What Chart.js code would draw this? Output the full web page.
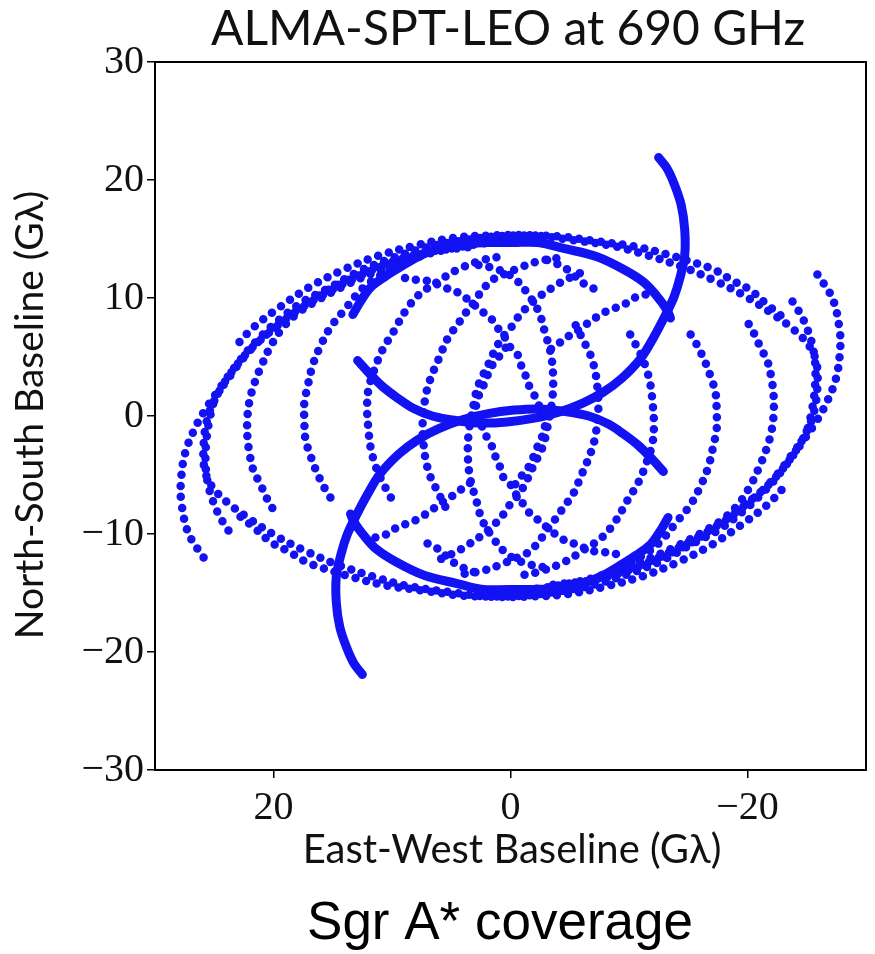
<!DOCTYPE html>
<html>
<head>
<meta charset="utf-8">
<script src="https://cdn.jsdelivr.net/npm/chart.js@4.4.1/dist/chart.umd.min.js"></script>
<style>
  html, body { margin: 0; padding: 0; background: #fff; }
  canvas { display: block; }
</style>
</head>
<body>
<canvas id="uv" width="875" height="954"></canvas>
<script>
// axis ticks
const xTickValues = [20, 0, -20];
const yTickValues = [30, 20, 10, 0, -10, -20, -30];

// ground / slow tracks (dotted); conjugates (-u,-v) are added below
const l1U = [25.9, 27.2, 27.8, 27.8, 27.5, 26.8, 25.9, 24.5, 23.0, 21.5, 19.6, 17.5, 15.4, 12.9, 10.2, 7.4, 4.5, 1.5, -1.4, -4.4, -7.3, -10.3, -13.2, -15.8, -17.2, -18.7, -20.2, -21.7, -23.1];
const l1V = [-12.0, -9.9, -7.1, -5.4, -3.3, -1.4, 0.3, 2.4, 4.5, 6.3, 8.1, 9.7, 10.8, 12.2, 13.3, 14.2, 14.8, 15.2, 15.3, 15.2, 14.8, 14.4, 13.7, 12.9, 12.4, 11.5, 10.7, 9.4, 8.3];

const l2U = [3.6, 7.0, 9.9, 12.9, 15.4, 17.9, 20.1, 22.0, 23.7, 24.9, 25.6, 25.9, 25.8, 25.1, 23.8, 22.2, 19.9, 17.4, 14.6, 11.6, 8.7, 5.3, 1.9, -1.4, -4.8, -8.2, -11.1, -14.1, -17.0, -19.5, -21.7, -23.3];
const l2V = [14.3, 13.9, 13.1, 11.8, 10.5, 9.0, 7.3, 5.6, 3.5, 1.5, -0.3, -2.5, -4.6, -6.1, -7.4, -8.6, -10.1, -11.4, -12.6, -13.6, -14.4, -14.9, -15.3, -15.3, -15.1, -14.4, -13.6, -12.4, -10.9, -9.2, -7.5, -5.8];

const l3U = [23.8, 24.5, 25.0, 25.4, 25.7, 25.7, 25.4, 24.9, 23.8, 22.3, 20.6, 18.5, 16.3, 13.9, 11.4, 8.7];
const l3V = [-9.7, -8.6, -7.5, -6.3, -4.6, -2.5, -0.3, 1.5, 3.2, 5.2, 6.9, 8.4, 9.8, 11.1, 12.2, 13.1];

const c3U = [20.1, 20.6, 21.1, 21.7, 22.0, 22.2, 22.2, 22.0, 21.6, 21.0, 20.2, 19.2, 17.9, 16.3, 14.2, 11.6, 8.8, 6.1, 3.2, 0.3, -2.7];
const c3V = [-7.8, -6.9, -5.8, -4.6, -3.3, -1.8, -0.1, 1.4, 2.8, 4.3, 6.0, 7.5, 8.8, 10.1, 11.3, 12.4, 13.3, 14.1, 14.6, 14.8, 14.8];

const c4U = [15.2, 15.7, 16.1, 16.5, 16.9, 17.3, 17.4, 17.4, 17.1, 16.7, 16.1, 15.2, 14.0, 12.6, 11.2, 9.5, 7.4, 4.9, 1.9];
const c4V = [-6.9, -6.1, -5.3, -4.4, -3.3, -2.0, -0.3, 1.1, 2.6, 4.3, 5.8, 7.5, 9.0, 10.7, 11.8, 12.8, 13.6, 14.2, 14.7];

const c5U = [10.1, 10.8, 11.4, 11.8, 12.0, 12.1, 12.0, 11.5, 10.8, 9.9, 8.8, 7.7, 6.1, 4.5, 2.4, 0.3];
const c5V = [-6.9, -5.6, -4.2, -2.7, -1.0, 0.5, 2.2, 3.9, 5.6, 7.1, 9.0, 10.3, 11.4, 12.4, 13.2, 13.6];

const e1U = [5.5, 5.9, 6.3, 6.7, 7.0, 7.2, 7.4, 7.4, 7.2, 7.0, 6.7, 6.3, 5.9, 5.5, 5.1, 4.5, 3.9, 3.4, 2.8, 1.7, 0.8, -0.6, -2.3, -4.0];
const e1V = [-7.7, -6.9, -6.1, -5.3, -4.4, -3.5, -1.6, -0.3, 1.5, 2.4, 3.3, 4.3, 5.2, 6.2, 6.9, 7.7, 8.6, 9.2, 10.1, 11.4, 11.9, 12.5, 13.1, 13.4];

const e2U = [-2.7, -1.0, 0.4, 1.5, 2.4, 2.9, 3.4, 3.6, 3.5, 3.0, 2.8, 2.4, 1.9, 1.5, 1.1, 0.5, -0.2, -0.8, -1.6, -2.4, -4.2, -5.4, -6.5];
const e2V = [-12.8, -12.4, -11.6, -10.3, -8.8, -7.1, -5.3, -3.3, -1.2, 1.5, 2.4, 3.3, 4.3, 5.2, 6.0, 6.9, 7.7, 8.6, 9.4, 10.1, 11.3, 11.9, 12.4];

const e3U = [8.9, 7.7, 6.7, 5.7, 4.9, 4.2, 3.5, 2.8, 2.2, 1.5, 1.1, 0.5, 0.0, -0.6, -0.8, -1.2, -1.4, -1.9, -2.4, -2.9, -2.8, -2.4, -2.0, -1.6, -1.0, -0.4];
const e3V = [11.7, 11.5, 11.4, 10.9, 10.7, 10.3, 9.8, 9.2, 8.7, 8.1, 7.5, 6.7, 5.8, 5.2, 4.5, 3.7, 2.9, 2.0, 0.9, -0.3, -1.4, -2.3, -3.3, -4.2, -5.0, -5.8];

const e4U = [11.4, 10.4, 9.5, 8.4, 7.6, 6.7, 5.9, 5.1, 4.0, 2.9];
const e4V = [-10.3, -10.0, -9.4, -9.0, -8.6, -8.0, -7.4, -6.9, -6.1, -5.3];

const e5U = [7.0, 5.9, 5.1, 3.9, 2.6];
const e5V = [-10.8, -11.4, -12.2, -12.9, -13.4];

// satellite tracks (solid)
const leoAU = [13.3, 12.6, 11.8, 10.6, 9.5, 7.8, 6.1, 4.0, 1.9, -0.2, -2.3, -4.5, -7.3, -9.6, -11.3, -12.4, -13.2, -13.5];
const leoAV = [8.6, 9.8, 10.9, 11.8, 12.5, 13.5, 14.2, 14.6, 14.7, 14.7, 14.7, 14.2, 13.5, 12.4, 11.3, 10.1, 9.0, 8.3];

const leoBU = [12.9, 11.9, 10.8, 9.5, 8.3, 6.6, 4.5, 2.4, 0.3, -1.9, -4.0, -6.1, -7.8, -9.4, -11.0, -12.1, -13.1, -13.8, -14.3, -14.7, -14.7, -14.4, -13.8, -13.2, -12.5];
const leoBV = [4.7, 3.6, 2.5, 1.5, 0.7, 0.0, -0.4, -0.6, -0.5, -0.2, 0.3, 1.1, 2.0, 3.2, 4.9, 6.7, 8.6, 10.1, 11.7, 13.6, 15.8, 17.9, 19.7, 21.0, 21.9];

const BLUE = '#1212f2';

const dottedTracks = [[l1U, l1V], [l2U, l2V], [l3U, l3V], [c3U, c3V], [c4U, c4V], [c5U, c5V],
  [e1U, e1V], [e2U, e2V], [e3U, e3V], [e4U, e4V], [e5U, e5V]];
const solidTracks = [[leoAU, leoAV], [leoBU, leoBV]];

function pts(u, v, sign) {
  return u.map((x, i) => ({ x: sign * x, y: sign * v[i] }));
}

const datasets = [];
dottedTracks.forEach(([u, v]) => {
  [1, -1].forEach(s => {
    datasets.push({
      data: pts(u, v, s),
      showLine: true,
      borderColor: BLUE,
      borderWidth: 8.5,
      borderDash: [0, 11],
      borderCapStyle: 'round',
      tension: 0.35,
      pointRadius: 0
    });
  });
});
solidTracks.forEach(([u, v]) => {
  [1, -1].forEach(s => {
    datasets.push({
      data: pts(u, v, s),
      showLine: true,
      borderColor: BLUE,
      borderWidth: 9,
      borderCapStyle: 'round',
      tension: 0.35,
      pointRadius: 0
    });
  });
});

const minus = n => (n < 0 ? '\u2212' + Math.abs(n) : String(n));

const textPlugin = {
  id: 'texts',
  afterDraw(chart) {
    const { ctx, chartArea: a } = chart;
    ctx.save();
    // full frame
    ctx.strokeStyle = '#000';
    ctx.lineWidth = 2;
    ctx.strokeRect(a.left, a.top, a.right - a.left, a.bottom - a.top);

    ctx.fillStyle = '#111';
    ctx.textAlign = 'center';
    ctx.textBaseline = 'middle';
    ctx.font = '48px Lato';
    ctx.fillText('ALMA-SPT-LEO at 690 GHz', 508, 30);

    ctx.font = '40px Lato';
    ctx.fillText('East-West Baseline (G\u03bb)', 512, 850);

    ctx.save();
    ctx.translate(30, 415);
    ctx.rotate(-Math.PI / 2);
    ctx.font = '39px Lato';
    ctx.fillText('North-South Baseline (G\u03bb)', 0, 0);
    ctx.restore();

    ctx.fillStyle = '#000';
    ctx.font = '53px "Liberation Sans"';
    ctx.fillText('Sgr A* coverage', 500, 924);
    ctx.restore();
  }
};

new Chart(document.getElementById('uv'), {
  type: 'scatter',
  data: { datasets },
  options: {
    responsive: false,
    animation: false,
    layout: { padding: { top: 62, right: 9, left: 0, bottom: 0 } },
    plugins: { legend: { display: false }, tooltip: { enabled: false } },
    scales: {
      x: {
        type: 'linear',
        min: -30,
        max: 30,
        reverse: true,
        afterBuildTicks: s => { s.ticks = xTickValues.map(v => ({ value: v })); },
        afterFit: s => { s.height = 184; },
        grid: { drawOnChartArea: false, color: '#000', lineWidth: 1.5, tickLength: 8 },
        border: { color: '#000', width: 2 },
        ticks: {
          color: '#111',
          padding: 6,
          maxRotation: 0,
          font: { family: '"Liberation Serif"', size: 40 },
          callback: v => minus(v)
        }
      },
      y: {
        type: 'linear',
        min: -30,
        max: 30,
        afterBuildTicks: s => { s.ticks = yTickValues.map(v => ({ value: v })); },
        afterFit: s => { s.width = 155; },
        grid: { drawOnChartArea: false, color: '#000', lineWidth: 1.5, tickLength: 8 },
        border: { color: '#000', width: 2 },
        ticks: {
          color: '#111',
          padding: 3,
          font: { family: '"Liberation Serif"', size: 40 },
          callback: v => minus(v)
        }
      }
    }
  },
  plugins: [textPlugin]
});
</script>
</body>
</html>
